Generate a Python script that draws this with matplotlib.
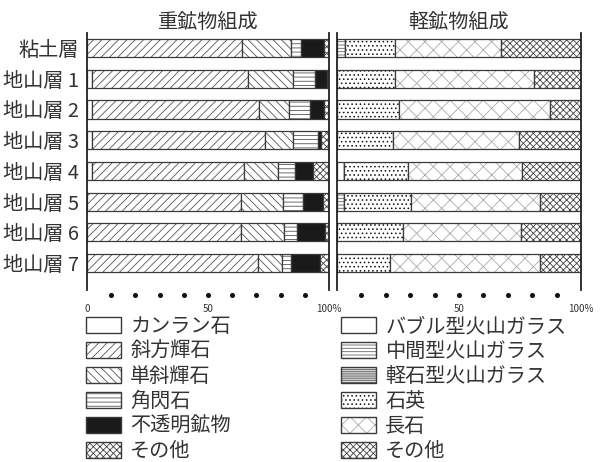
import numpy as np
import matplotlib
matplotlib.use("Agg")
import matplotlib.pyplot as plt
from matplotlib.patches import Patch
from matplotlib.legend_handler import HandlerTuple
import matplotlib.transforms as mtransforms

plt.rcParams['font.family'] = ['Noto Sans CJK JP', 'DejaVu Sans']
plt.rcParams['hatch.linewidth'] = 0.6

layers = ['粘土層', '地山層 1', '地山層 2', '地山層 3', '地山層 4', '地山層 5', '地山層 6', '地山層 7']

heavy_names = ['カンラン石', '斜方輝石', '単斜輝石', '角閃石', '不透明鉱物', 'その他']
olivine       = [0, 2, 2, 2, 2, 0, 0, 0]
orthopyroxene = [64.0, 64.7, 68.9, 71.7, 62.7, 63.5, 63.6, 70.5]
clinopyroxene = [20.5, 18.6, 12.4, 11.4, 14.2, 17.6, 17.8, 9.9]
hornblende    = [4.0, 8.9, 8.9, 10.2, 6.9, 8.0, 5.2, 3.8]
opaque        = [9.5, 4.8, 5.6, 1.4, 7.6, 8.3, 11.7, 12.1]
heavy_other   = [2.0, 1.0, 2.2, 3.3, 6.6, 2.6, 1.7, 3.7]

light_names = ['バブル型火山ガラス', '中間型火山ガラス', '軽石型火山ガラス', '石英', '長石', 'その他']
bubble_glass   = [0, 0, 0, 0, 2.7, 0, 0, 0]
middle_glass   = [3.2, 0, 0, 0, 0, 2.7, 0, 0]
pumice_glass   = [0, 0, 0, 0, 0, 0, 0, 0]
quartz         = [20.5, 23.7, 25.4, 23.0, 26.2, 27.6, 27.1, 21.7]
feldspar       = [43.6, 57.1, 62.0, 51.4, 46.9, 53.0, 48.4, 61.3]
light_other    = [32.7, 19.2, 12.6, 25.6, 24.2, 16.7, 24.5, 17.0]

xtick_vals = [0, 50, 100]
left_xlabels = ['0', '50', '100%']
right_xlabels = ['', '50', '100%']
dot_vals = [10, 20, 30, 40, 50, 60, 70, 80, 90]

EDGE = '#3a3a3a'
# styles: (facecolor, hatch, hatchcolor)
heavy_styles = [('white', None, EDGE), ('white', '////', '#555555'), ('white', '\\\\\\\\', '#555555'),
                ('white', '----', '#555555'), ('#1a1a1a', None, EDGE), ('white', 'xxxxx', '#444444')]
light_styles = [('white', None, EDGE), ('white', '-----', '#666666'), ('white', '--------', '#222222'),
                ('white', '....', '#111111'), ('white', 'xx', '#aaaaaa'), ('white', 'xxxxx', '#444444')]

W, H = 601, 462
fig = plt.figure(figsize=(W / 100, H / 100), dpi=100)
fig.patch.set_facecolor('white')

top_px, bot_px = 33, 290
ax1 = fig.add_axes([87 / W, 1 - bot_px / H, (329 - 87) / W, (bot_px - top_px) / H])
ax2 = fig.add_axes([337 / W, 1 - bot_px / H, (581 - 337) / W, (bot_px - top_px) / H])

y = np.arange(len(layers))
bar_h = 0.59


def draw_panel(ax, series, styles):
    left = np.zeros(len(layers))
    for vals, (fc, hatch, hc) in zip(series, styles):
        vals = np.asarray(vals, dtype=float)
        ax.barh(y, vals, left=left, height=bar_h, color=fc, hatch=hatch,
                edgecolor=hc, linewidth=0)
        ax.barh(y, vals, left=left, height=bar_h, fill=False,
                edgecolor=EDGE, linewidth=0.9)
        left += vals
    ax.set_xlim(0, 100)
    ax.set_ylim(7.88, -0.49)
    for s in ['top', 'bottom']:
        ax.spines[s].set_visible(False)
    for s in ['left', 'right']:
        ax.spines[s].set_linewidth(1.3)
        ax.spines[s].set_color('#222222')
    trans = mtransforms.blended_transform_factory(ax.transData, ax.transAxes)
    ax.plot(dot_vals, [-0.02] * len(dot_vals), 'o', ms=2.6, color='#111111',
            transform=trans, clip_on=False)
    ax.set_xticks(xtick_vals)
    ax.tick_params(axis='x', length=0, pad=10, labelsize=7, labelcolor='#333333')


draw_panel(ax1, [olivine, orthopyroxene, clinopyroxene, hornblende, opaque, heavy_other], heavy_styles)
draw_panel(ax2, [bubble_glass, middle_glass, pumice_glass, quartz, feldspar, light_other], light_styles)

ax1.set_xticklabels(left_xlabels)
ax2.set_xticklabels(right_xlabels)
ax1.set_yticks(y)
ax1.set_yticklabels(layers, fontsize=14.5, color='#333333')
ax1.tick_params(axis='y', length=0, pad=6)
ax2.set_yticks([])

ax1.set_title('重鉱物組成', fontsize=14.5, color='#333333', pad=3)
ax2.set_title('軽鉱物組成', fontsize=14.5, color='#333333', pad=3)


def make_handles(styles):
    hs = []
    for fc, hatch, hc in styles:
        base = Patch(facecolor=fc, hatch=hatch, edgecolor=hc, linewidth=0)
        outline = Patch(fill=False, edgecolor=EDGE, linewidth=1.0)
        hs.append((base, outline))
    return hs


for names, styles, xpx in [(heavy_names, heavy_styles, 86), (light_names, light_styles, 341)]:
    fig.legend(make_handles(styles), names, loc='upper left',
               bbox_to_anchor=(xpx / W, 1 - 316 / H), frameon=False,
               fontsize=14.5, handlelength=1.75, handleheight=0.8,
               labelspacing=0.2, handletextpad=0.45, borderpad=0,
               borderaxespad=0, labelcolor='#333333',
               handler_map={tuple: HandlerTuple(ndivide=1, pad=0)})

fig.savefig('out.png', dpi=100, facecolor='white')
